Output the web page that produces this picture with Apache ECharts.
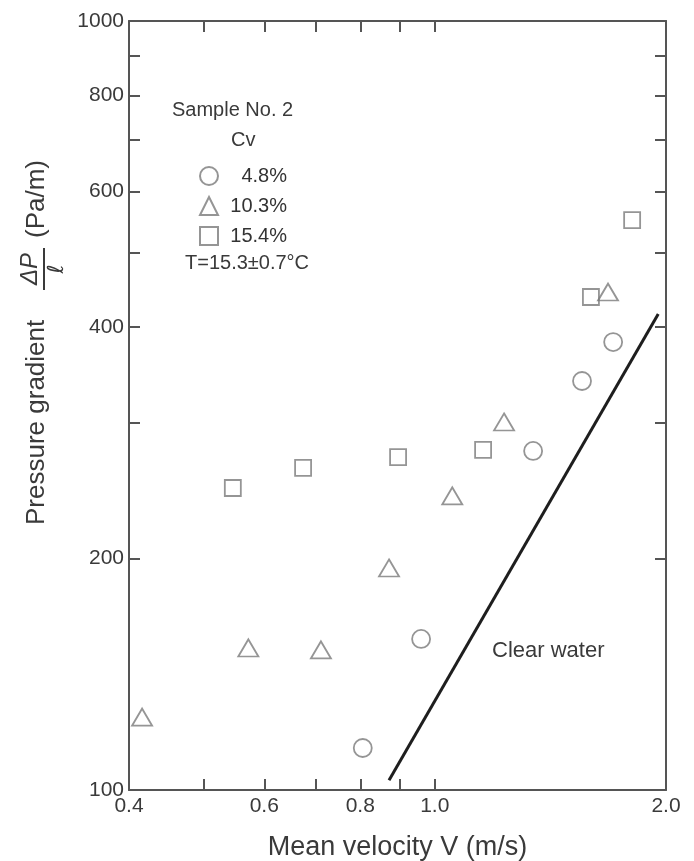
<!DOCTYPE html>
<html><head><meta charset="utf-8">
<script src="https://cdn.jsdelivr.net/npm/echarts@6/dist/echarts.min.js"></script>
<style>html,body{margin:0;padding:0;background:#fff}#c{width:694px;height:861px}</style>
</head><body><div id="c"></div><script>
// ---- data ----
const cvLabels = ['4.8%', '10.3%', '15.4%'];
const v48 = [0.806, 0.960, 1.343, 1.555, 1.707];
const p48 = [113.4, 157.2, 276, 340.3, 382.4];
const v103 = [0.416, 0.572, 0.711, 0.872, 1.054, 1.231, 1.681];
const p103 = [124.4, 153, 152.1, 194.4, 241.2, 301, 444.2];
const v154 = [0.546, 0.674, 0.896, 1.156, 1.597, 1.807];
const p154 = [247, 262.3, 271, 276.8, 437.6, 551];
const vWater = [0.872, 1.954];
const pWater = [103, 415.9];
const xTickLabels = [0.4, 0.6, 0.8, 1.0, 2.0];
const xTicks = [0.5, 0.6, 0.7, 0.8, 0.9, 1.0];
const yTickLabels = [100, 200, 400, 600, 800, 1000];
const yTicks = [200, 300, 400, 500, 600, 700, 800, 900];

const pair = (xs, ys) => xs.map((x, i) => [x, ys[i]]);
const FONT = 'Liberation Sans, Arial, sans-serif';
const TXT = '#3a3a3a';
const AX = '#555';
const MK = '#7a7a7a';

const chart = echarts.init(document.getElementById('c'), null, {renderer: 'canvas'});
const axisLine = {show: true, onZero: false, lineStyle: {color: AX, width: 2}};
const tickStyle = {color: AX, width: 2};

const option = {
  backgroundColor: '#fff',
  animation: false,
  grid: {left: 129, right: 28, top: 21, bottom: 71, containLabel: false, outerBoundsMode: 'none'},
  xAxis: [{
    type: 'log', min: 0.4, max: 2.0, position: 'bottom',
    axisLine: axisLine,
    axisTick: {show: true, inside: true, length: 11, lineStyle: tickStyle, customValues: xTicks},
    axisLabel: {show: true, customValues: xTickLabels, formatter: v => Number(v).toFixed(1),
      fontSize: 21, color: TXT, fontFamily: FONT, margin: 6},
    splitLine: {show: false}, minorTick: {show: false},
    name: 'Mean velocity V (m/s)', nameLocation: 'middle', nameGap: 44,
    nameTextStyle: {fontSize: 27, color: TXT, fontFamily: FONT}
  }, {
    type: 'log', min: 0.4, max: 2.0, position: 'top',
    axisLine: axisLine,
    axisTick: {show: true, inside: true, length: 11, lineStyle: tickStyle, customValues: xTicks},
    axisLabel: {show: false}, splitLine: {show: false}
  }],
  yAxis: [{
    type: 'log', min: 100, max: 1000, position: 'left',
    axisLine: axisLine,
    axisTick: {show: true, inside: true, length: 11, lineStyle: tickStyle, customValues: yTicks},
    axisLabel: {show: true, customValues: yTickLabels, formatter: v => String(Math.round(v)),
      fontSize: 21, color: TXT, fontFamily: FONT, margin: 5},
    splitLine: {show: false}
  }, {
    type: 'log', min: 100, max: 1000, position: 'right',
    axisLine: axisLine,
    axisTick: {show: true, inside: true, length: 11, lineStyle: tickStyle, customValues: yTicks},
    axisLabel: {show: false}, splitLine: {show: false}
  }],
  legend: {
    data: cvLabels, orient: 'vertical', left: 194, top: 161,
    itemWidth: 18, itemHeight: 18, itemGap: 10,
    formatter: n => '{a|' + n + '}',
    textStyle: {fontSize: 20, color: '#333', fontFamily: FONT,
      rich: {a: {width: 64, align: 'right', fontSize: 20, color: '#333', fontFamily: FONT}}},
    selectedMode: false
  },
  series: [{
    name: cvLabels[0], type: 'scatter', data: pair(v48, p48),
    symbol: 'circle', symbolSize: 18,
    itemStyle: {color: 'rgba(255,255,255,0)', borderColor: MK, borderWidth: 1.8}
  }, {
    name: cvLabels[1], type: 'scatter', data: pair(v103, p103),
    symbol: 'triangle', symbolSize: [20, 17],
    itemStyle: {color: 'rgba(255,255,255,0)', borderColor: MK, borderWidth: 1.8}
  }, {
    name: cvLabels[2], type: 'scatter', data: pair(v154, p154),
    symbol: 'rect', symbolSize: 16,
    itemStyle: {color: 'rgba(255,255,255,0)', borderColor: MK, borderWidth: 1.8}
  }, {
    name: 'Clear water', type: 'line', data: pair(vWater, pWater),
    symbol: 'none', lineStyle: {color: '#1e1e1e', width: 3}, z: 1
  }],
  graphic: [
    {type: 'text', left: 172, top: 100, style: {text: 'Sample No. 2', fontSize: 20, fill: TXT, fontFamily: FONT}},
    {type: 'text', left: 231, top: 130, style: {text: 'Cv', fontSize: 20, fill: TXT, fontFamily: FONT}},
    {type: 'text', left: 185, top: 253, style: {text: 'T=15.3±0.7°C', fontSize: 20, fill: TXT, fontFamily: FONT}},
    {type: 'text', left: 492, top: 640, style: {text: 'Clear water', fontSize: 22, fill: TXT, fontFamily: FONT}},
    {type: 'group', x: 37, y: 525, rotation: Math.PI / 2, children: [
      {type: 'text', x: 0, y: 0, style: {text: 'Pressure gradient', fontSize: 26, fill: TXT, fontFamily: FONT, textVerticalAlign: 'middle', textAlign: 'left'}},
      {type: 'text', x: 256, y: -7, style: {text: 'ΔP', fontSize: 24, fontStyle: 'italic', fill: TXT, fontFamily: FONT, textVerticalAlign: 'middle', textAlign: 'center'}},
      {type: 'line', shape: {x1: 235, y1: 7, x2: 277, y2: 7}, style: {stroke: TXT, lineWidth: 2}},
      {type: 'text', x: 256, y: 20, style: {text: 'ℓ', fontSize: 22, fontStyle: 'italic', fill: TXT, fontFamily: 'DejaVu Sans', textVerticalAlign: 'middle', textAlign: 'center'}},
      {type: 'text', x: 287, y: 0, style: {text: '(Pa/m)', fontSize: 26, fill: TXT, fontFamily: FONT, textVerticalAlign: 'middle', textAlign: 'left'}}
    ]}
  ]
};
chart.setOption(option);
</script></body></html>
